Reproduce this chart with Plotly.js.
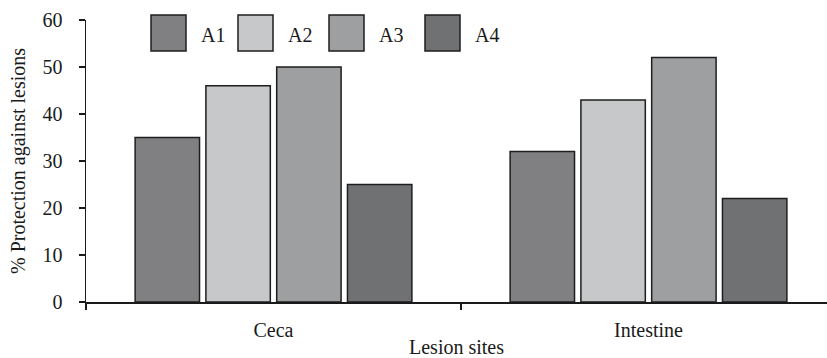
<!DOCTYPE html>
<html>
<head>
<meta charset="utf-8">
<script src="https://cdn.plot.ly/plotly-3.0.1.min.js"></script>
<style>html,body{margin:0;padding:0;background:#fff;}#chart{width:827px;height:358px;}</style>
</head>
<body>
<div id="chart"></div>
<script>
var categories = ["Ceca", "Intestine"];
var seriesNames = ["A1", "A2", "A3", "A4"];
var valuesA1 = [35, 32];
var valuesA2 = [46, 43];
var valuesA3 = [50, 52];
var valuesA4 = [25, 22];
var yTicks = [0, 10, 20, 30, 40, 50, 60];

var seriesValues = [valuesA1, valuesA2, valuesA3, valuesA4];
var colors = ["#808082", "#c7c8ca", "#9e9fa1", "#707173"];
var FONT = "Liberation Serif, Times New Roman, serif";
var FS = 20;

var W = 827, H = 358, L = 86, R = 0, T = 20, B = 56;
var pw = W - L - R, ph = H - T - B;
function px(x){ return (x - L) / pw; }
function py(y){ return (H - B - y) / ph; }

var traces = seriesNames.map(function(n, i){
  return {
    type: "bar", name: n, x: categories, y: seriesValues[i],
    marker: {color: colors[i], line: {color: "#1e1e1e", width: 1.5}},
    showlegend: false, hoverinfo: "none"
  };
});

var legX = [151, 238, 329, 425];
var shapes = [], annotations = [];
seriesNames.forEach(function(n, i){
  shapes.push({type: "rect", xref: "paper", yref: "paper",
    x0: px(legX[i]), x1: px(legX[i] + 35), y0: py(51), y1: py(15),
    fillcolor: colors[i], line: {color: "#1e1e1e", width: 1.5}});
  annotations.push({xref: "paper", yref: "paper", x: px(legX[i] + 48), y: py(35),
    xanchor: "left", yanchor: "middle", text: n, showarrow: false,
    font: {family: FONT, size: FS, color: "#1a1a1a"}});
});

var layout = {
  width: W, height: H,
  margin: {l: L, r: R, t: T, b: B, pad: 0},
  paper_bgcolor: "#fff", plot_bgcolor: "#fff",
  barmode: "group", bargap: 0.245, bargroupgap: 0.09,
  font: {family: FONT, size: FS, color: "#1a1a1a"},
  xaxis: {
    type: "category", range: [-0.5, -0.5 + pw / 375],
    showline: true, linecolor: "#1a1a1a", linewidth: 1.5,
    ticks: "outside", tickson: "boundaries", ticklen: 6, tickcolor: "#1a1a1a", tickwidth: 1.5,
    ticklabelstandoff: 9,
    showgrid: false, zeroline: false,
    tickfont: {family: FONT, size: FS, color: "#1a1a1a"},
    title: {text: "Lesion sites", font: {family: FONT, size: FS, color: "#1a1a1a"}, standoff: 1}
  },
  yaxis: {
    range: [0, 60], tickvals: yTicks, ticktext: yTicks.map(String),
    showline: true, linecolor: "#1a1a1a", linewidth: 1.5,
    ticks: "outside", ticklen: 6, tickcolor: "#1a1a1a", tickwidth: 1.5,
    ticklabelstandoff: 12,
    showgrid: false, zeroline: false,
    tickfont: {family: FONT, size: FS, color: "#1a1a1a"},
    title: {text: "% Protection against lesions", font: {family: FONT, size: FS, color: "#1a1a1a"}, standoff: 11}
  },
  shapes: shapes, annotations: annotations
};

Plotly.newPlot("chart", traces, layout, {staticPlot: true});
</script>
</body>
</html>
